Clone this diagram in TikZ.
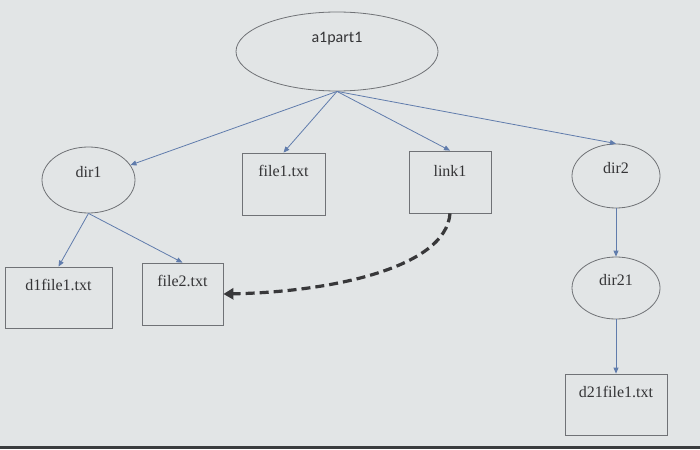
\documentclass[tikz,border=0pt]{standalone}
\usepackage{fontspec}
\setmainfont{Liberation Serif}
\newfontfamily\carlito{Carlito}
\usetikzlibrary{arrows.meta,shapes.geometric,positioning}
\definecolor{paper}{RGB}{226,229,230}
\definecolor{edge}{RGB}{58,60,62}
\definecolor{boxgray}{RGB}{112,114,118}
\definecolor{treeblue}{RGB}{96,124,172}
\definecolor{linkdark}{RGB}{56,56,58}
\definecolor{txt}{RGB}{52,52,54}

\begin{document}
\begin{tikzpicture}[x=1pt,y=-1pt]
        \tikzstyle{dirnode}=[ellipse,draw=boxgray,line width=0.8pt,inner sep=2pt,text=txt,font=\fontsize{16}{16}\selectfont,text height=12pt,text depth=17pt]
        \tikzstyle{filebox}=[rectangle,draw=boxgray,line width=0.8pt,inner sep=2pt,text=txt,font=\fontsize{16}{16}\selectfont,text height=12pt,text depth=27pt]
        \tikzstyle{treeline}=[-{Triangle[length=6pt,width=5pt]},treeblue,line width=0.8pt]
        \tikzstyle{symlink}=[-{Triangle[length=10pt,width=11pt]},linkdark,line width=3.2pt,dash pattern=on 9pt off 5pt]
        % photo background
        \useasboundingbox (0,0) rectangle (700,449);
        \fill[paper] (0,0) rectangle (700,449);
        \fill[edge] (0,446) rectangle (700,449);
        % nodes
        \node[dirnode,minimum width=202pt,minimum height=79pt,font=\carlito\fontsize{16}{16}\selectfont,text depth=29pt] (root) at (337,51.5) {a1part1};
        \node[dirnode,minimum width=93pt,minimum height=66pt] (dir1) at (88.5,180) {dir1};
        \node[filebox,minimum width=83pt,minimum height=62pt] (file1) at (283.5,184) {file1.txt};
        \node[filebox,minimum width=82pt,minimum height=62pt,text depth=23pt] (link1) at (450,182) {link1};
        \node[dirnode,minimum width=88pt,minimum height=64pt] (dir2) at (616,176) {dir2};
        \node[filebox,minimum width=107pt,minimum height=61pt] (d1file1) at (58.5,297.5) {d1file1.txt};
        \node[filebox,minimum width=81pt,minimum height=62pt] (file2) at (182.5,294) {file2.txt};
        \node[dirnode,minimum width=88pt,minimum height=62pt] (dir21) at (616,288) {dir21};
        \node[filebox,minimum width=102pt,minimum height=61pt] (d21file1) at (616,404.5) {d21file1.txt};
        % tree edges
        \draw[treeline] (root.south) -- (dir1);
        \draw[treeline] (root.south) -- (file1.north);
        \draw[treeline] (root.south) -- (link1.north);
        \draw[treeline] (root.south) -- (dir2.north);
        \draw[treeline] (dir1.south) -- (d1file1.north);
        \draw[treeline] (dir1.south) -- (file2.north);
        \draw[treeline] (dir2.south) -- (dir21.north);
        \draw[treeline] (dir21.south) -- (d21file1.north);
        % link target
        \draw[symlink] (link1.south) .. controls (446,268) and (330,292) .. (file2.east);
\end{tikzpicture}
\end{document}
